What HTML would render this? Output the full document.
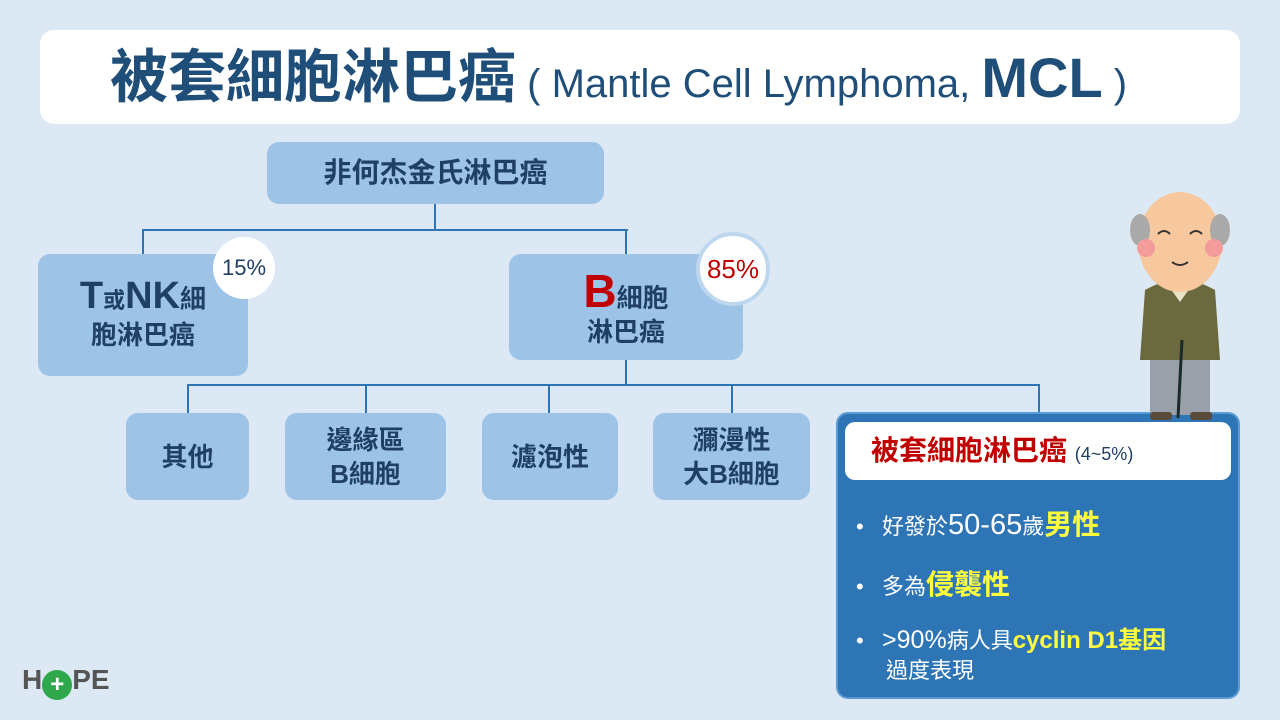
<!DOCTYPE html>
<html><head><meta charset="utf-8"><style>
body{margin:0;width:1280px;height:720px;background:#dde8f5;position:relative;overflow:hidden;font-family:"Liberation Sans","Noto Sans CJK TC",sans-serif;}
.a{position:absolute;box-sizing:border-box}
.box{background:#9dc3e6;border-radius:12px;color:#1f3f66;display:flex;align-items:center;justify-content:center;text-align:center;font-size:26px;line-height:34px;font-weight:bold}
.ln{position:absolute;background:#2e75b6}
.y{color:#ffff3c;font-weight:bold}
</style></head><body>
<div class="a" style="left:40px;top:30px;width:1200px;height:94px;background:#fff;border-radius:14px;"></div>
<div class="a" style="left:110px;top:40px;height:76px;line-height:76px;color:#1f4e79;font-weight:bold;white-space:nowrap;">
<span style="font-size:58px;">被套細胞淋巴癌</span><span style="font-size:40px;font-weight:normal"> ( Mantle Cell Lymphoma, </span><span style="font-size:56px;">MCL</span><span style="font-size:40px;font-weight:normal"> )</span></div>

<div class="ln" style="left:434px;top:204px;width:2px;height:26px"></div>
<div class="ln" style="left:142px;top:229px;width:486px;height:2px"></div>
<div class="ln" style="left:142px;top:229px;width:2px;height:26px"></div>
<div class="ln" style="left:625px;top:229px;width:2px;height:26px"></div>
<div class="ln" style="left:625px;top:360px;width:2px;height:26px"></div>
<div class="ln" style="left:187px;top:384px;width:853px;height:2px"></div>
<div class="ln" style="left:187px;top:384px;width:2px;height:30px"></div>
<div class="ln" style="left:365px;top:384px;width:2px;height:30px"></div>
<div class="ln" style="left:548px;top:384px;width:2px;height:30px"></div>
<div class="ln" style="left:731px;top:384px;width:2px;height:30px"></div>
<div class="ln" style="left:1038px;top:384px;width:2px;height:30px"></div>

<div class="a box" style="left:267px;top:142px;width:337px;height:62px;font-size:28px">非何杰金氏淋巴癌</div>
<div class="a box" style="left:38px;top:254px;width:210px;height:122px;flex-direction:column"><div><span style="font-size:38px;">T</span><span style="font-size:22px">或</span><span style="font-size:38px;">NK</span>細</div><div>胞淋巴癌</div></div>
<div class="a box" style="left:509px;top:254px;width:234px;height:106px;flex-direction:column;padding-top:8px"><div><span style="font-size:46px;color:#c00000">B</span>細胞</div><div>淋巴癌</div></div>
<div class="a" style="left:213px;top:237px;width:62px;height:62px;border-radius:50%;background:#fff;color:#1f3f66;font-size:22px;line-height:62px;text-align:center">15%</div>
<div class="a" style="left:696px;top:232px;width:74px;height:74px;border-radius:50%;background:#fff;border:4px solid #bdd7ee;color:#c00000;font-size:26px;line-height:66px;text-align:center">85%</div>

<div class="a box" style="left:126px;top:413px;width:123px;height:87px">其他</div>
<div class="a box" style="left:285px;top:413px;width:161px;height:87px">邊緣區<br>B細胞</div>
<div class="a box" style="left:482px;top:413px;width:136px;height:87px">濾泡性</div>
<div class="a box" style="left:653px;top:413px;width:157px;height:87px">瀰漫性<br>大B細胞</div>

<div class="a" style="left:836px;top:412px;width:404px;height:287px;background:#2e75b6;border:2px solid #5b9bd5;border-radius:12px"></div>
<div class="a" style="left:845px;top:422px;width:386px;height:58px;background:#fff;border-radius:10px;color:#c00000;font-size:28px;line-height:58px;padding-left:26px;white-space:nowrap;font-weight:bold">被套細胞淋巴癌 <span style="font-size:18px;color:#1f3f66;font-weight:normal">(4~5%)</span></div>
<div class="a" style="left:856px;top:505px;color:#fff;font-size:22px;line-height:40px;white-space:nowrap;">
<div>•&nbsp;&nbsp;&nbsp;好發於<span style="font-size:29px">50-65</span>歲<span class="y" style="font-size:28px">男性</span></div>
<div style="margin-top:18px">•&nbsp;&nbsp;&nbsp;多為<span class="y" style="font-size:28px">侵襲性</span></div>
<div style="margin-top:18px;line-height:30px">•&nbsp;&nbsp;&nbsp;<span style="font-size:25px">&gt;90%</span>病人具<span class="y" style="font-size:24px">cyclin D1基因</span><br><span style="padding-left:30px">過度表現</span></div>
</div>

<svg class="a" style="left:1120px;top:190px" width="130" height="235">
<rect x="30" y="155" width="60" height="70" fill="#9aa0aa"/>
<path d="M25 100 Q60 80 95 100 L100 170 L20 170 Z" fill="#6b6a3e"/>
<path d="M48 95 L60 112 L72 95 Z" fill="#e8e2c8"/>
<ellipse cx="60" cy="52" rx="42" ry="50" fill="#f7c79e"/>
<ellipse cx="20" cy="40" rx="10" ry="16" fill="#a9a9a9"/>
<ellipse cx="100" cy="40" rx="10" ry="16" fill="#a9a9a9"/>
<circle cx="26" cy="58" r="9" fill="#f49b9b"/><circle cx="94" cy="58" r="9" fill="#f49b9b"/>
<path d="M38 44 q6 -6 12 0 M70 44 q6 -6 12 0 M52 72 q8 6 16 0" stroke="#333" stroke-width="2" fill="none"/>
<line x1="62" y1="150" x2="58" y2="228" stroke="#1a2a2a" stroke-width="3"/>
<rect x="30" y="222" width="22" height="8" rx="3" fill="#5a4a3a"/><rect x="70" y="222" width="22" height="8" rx="3" fill="#5a4a3a"/>
</svg>

<div class="a" style="left:22px;top:662px;font-size:28px;font-weight:bold;color:#555;line-height:36px;white-space:nowrap">H<span style="display:inline-block;width:30px;height:30px;border-radius:50%;background:#2ea84a;color:#fff;font-size:24px;line-height:30px;text-align:center;vertical-align:-3px">+</span>PE</div>
</body></html>
